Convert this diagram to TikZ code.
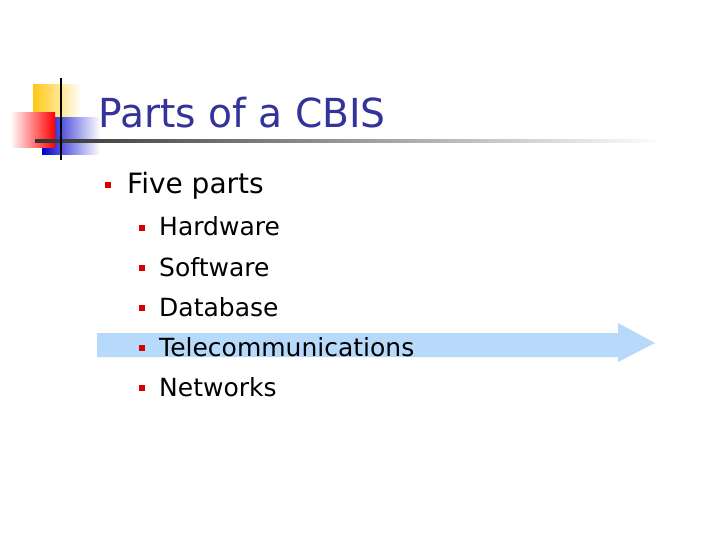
\documentclass[tikz,border=0pt]{standalone}
\usepackage{fontspec}
\setmainfont{DejaVu Sans}
\definecolor{arrowblue}{RGB}{184,218,250}
\definecolor{gold}{RGB}{255,200,20}
\begin{document}
\begin{tikzpicture}[x=1pt,y=-1pt,
  bul/.style={fill=red!85!black,minimum size=6pt,inner sep=0pt},
  item/.style={anchor=base west,inner sep=0pt,font=\fontsize{25}{28}\selectfont}]
\useasboundingbox[fill=white] (0,0) rectangle (720,540);
\fill[left color=gold,right color=white] (33,85) rectangle (82,118);
\fill[left color=blue!80!black,right color=white] (42,118) rectangle (100,155);
\fill[left color=white,right color=red] (10,113) rectangle (55,148);
\shade[left color=black!80,right color=white] (35,140) rectangle (665,142.5);
\draw[line width=2.5pt,black] (61,78) -- (61,160);
\node[anchor=base west,inner sep=0pt,text={rgb,255:red,51;green,51;blue,153},font=\fontsize{40}{44}\selectfont,xscale=0.98] (t) at (98,128) {Parts of a CBIS};
\fill[arrowblue] (97,333) -- (618,333) -- (618,323) -- (655,343) -- (618,362) -- (618,357) -- (97,357) -- cycle;
\node[bul] (b0) at (108,185) {};
\node[item,font=\fontsize{28}{30}\selectfont] (l0) at (127,194) {Five parts};
\foreach \y/\t [count=\i] in {228/Hardware,268/Software,308/Database,348/Telecommunications,388/Networks}{
  \node[bul,minimum size=5.5pt] (b\i) at (142,\y) {};
  \node[item] (l\i) at (159,\y+8) {\t};
}
\end{tikzpicture}
\end{document}
